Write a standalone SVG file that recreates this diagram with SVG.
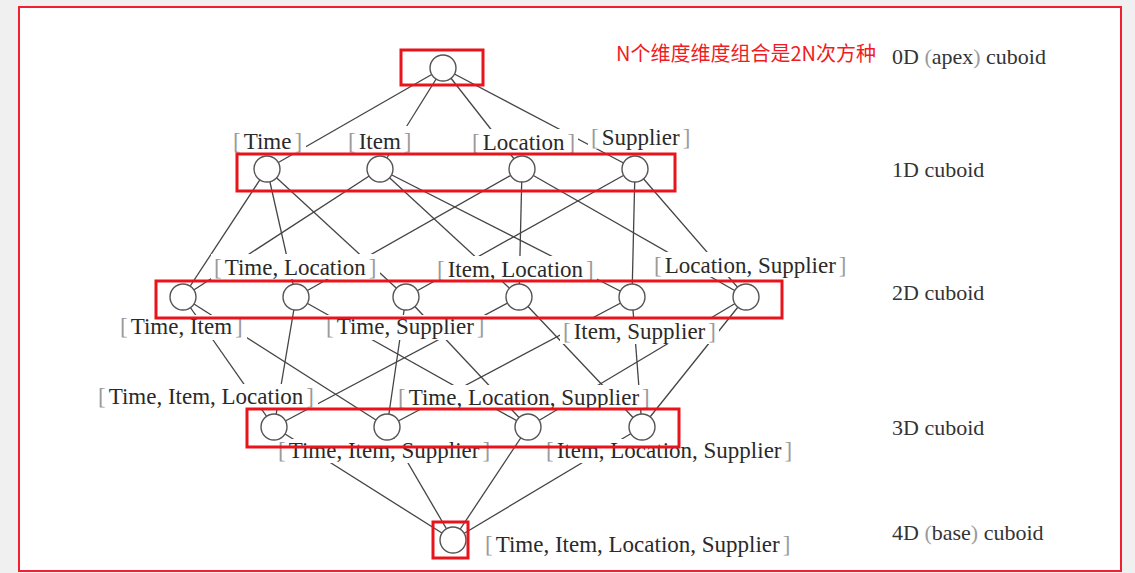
<svg xmlns="http://www.w3.org/2000/svg" width="1135" height="573" viewBox="0 0 1135 573">
<style>
.lbl{font-family:"Liberation Serif","Times New Roman",serif;font-size:23px;fill:#2a2a2a}
.lvl{font-family:"Liberation Serif","Times New Roman",serif;font-size:22px;fill:#333}
.br{fill:#9a9a9a}
.nd{fill:#ffffff;stroke:#555;stroke-width:1.4}
.cn line{stroke:#444;stroke-width:1.3}
.mk{fill:#ffffff}
.hl{fill:none;stroke:#e8141c;stroke-width:3}
.note{font-family:"Noto Sans CJK SC","Noto Sans",sans-serif;font-size:20px;fill:#f01c24}
</style>
<rect x="0" y="0" width="1135" height="573" fill="#f0f0f0"/>
<rect x="19" y="7" width="1102" height="564" fill="#ffffff" stroke="#f02030" stroke-width="2"/>

<g id="connectors" class="cn">
<!-- 0D to 1D -->
<line x1="443" y1="68" x2="267" y2="169"/>
<line x1="443" y1="68" x2="380" y2="169"/>
<line x1="443" y1="68" x2="522" y2="169"/>
<line x1="443" y1="68" x2="635" y2="169"/>
<!-- 1D to 2D -->
<line x1="267" y1="169" x2="183" y2="297"/>
<line x1="267" y1="169" x2="296" y2="297"/>
<line x1="267" y1="169" x2="406" y2="297"/>
<line x1="380" y1="169" x2="183" y2="297"/>
<line x1="380" y1="169" x2="519" y2="297"/>
<line x1="380" y1="169" x2="632" y2="297"/>
<line x1="522" y1="169" x2="296" y2="297"/>
<line x1="522" y1="169" x2="519" y2="297"/>
<line x1="522" y1="169" x2="746" y2="297"/>
<line x1="635" y1="169" x2="406" y2="297"/>
<line x1="635" y1="169" x2="632" y2="297"/>
<line x1="635" y1="169" x2="746" y2="297"/>
<!-- 2D to 3D -->
<line x1="183" y1="297" x2="274" y2="427"/>
<line x1="183" y1="297" x2="387" y2="427"/>
<line x1="296" y1="297" x2="274" y2="427"/>
<line x1="296" y1="297" x2="528" y2="427"/>
<line x1="406" y1="297" x2="387" y2="427"/>
<line x1="406" y1="297" x2="528" y2="427"/>
<line x1="519" y1="297" x2="274" y2="427"/>
<line x1="519" y1="297" x2="642" y2="427"/>
<line x1="632" y1="297" x2="387" y2="427"/>
<line x1="632" y1="297" x2="642" y2="427"/>
<line x1="746" y1="297" x2="528" y2="427"/>
<line x1="746" y1="297" x2="642" y2="427"/>
<!-- 3D to 4D -->
<line x1="274" y1="427" x2="453" y2="540"/>
<line x1="387" y1="427" x2="453" y2="540"/>
<line x1="528" y1="427" x2="453" y2="540"/>
<line x1="642" y1="427" x2="453" y2="540"/>
</g>

<g id="label-backgrounds" class="mk">
<rect x="230" y="127" width="76" height="26"/>
<rect x="345" y="126" width="70" height="27"/>
<rect x="469" y="129" width="109" height="25"/>
<rect x="588" y="124" width="105" height="25"/>
<rect x="211" y="254" width="169" height="25"/>
<rect x="434" y="256" width="163" height="25"/>
<rect x="651" y="252" width="199" height="25"/>
<rect x="117" y="315" width="130" height="25"/>
<rect x="323" y="315" width="165" height="25"/>
<rect x="560" y="319" width="159" height="25"/>
<rect x="95" y="384" width="223" height="25"/>
<rect x="395" y="385" width="259" height="25"/>
<rect x="275" y="439" width="219" height="24"/>
<rect x="543" y="439" width="252" height="24"/>
<rect x="482" y="531" width="312" height="25"/>
</g>

<g id="node-apex">
<circle class="nd" cx="443" cy="68" r="13"/>
</g>
<g id="node-time">
<text class="lbl" x="233" y="149"><tspan class="br">[</tspan><tspan dx="3">Time</tspan><tspan class="br" dx="3">]</tspan></text>
<circle class="nd" cx="267" cy="169" r="13"/>
</g>
<g id="node-item">
<text class="lbl" x="348" y="149"><tspan class="br">[</tspan><tspan dx="3">Item</tspan><tspan class="br" dx="3">]</tspan></text>
<circle class="nd" cx="380" cy="169" r="13"/>
</g>
<g id="node-location">
<text class="lbl" x="472" y="150"><tspan class="br">[</tspan><tspan dx="3">Location</tspan><tspan class="br" dx="3">]</tspan></text>
<circle class="nd" cx="522" cy="169" r="13"/>
</g>
<g id="node-supplier">
<text class="lbl" x="591" y="145"><tspan class="br">[</tspan><tspan dx="3">Supplier</tspan><tspan class="br" dx="3">]</tspan></text>
<circle class="nd" cx="635" cy="169" r="13"/>
</g>

<g id="node-time-item">
<text class="lbl" x="120" y="334"><tspan class="br">[</tspan><tspan dx="3">Time, Item</tspan><tspan class="br" dx="3">]</tspan></text>
<circle class="nd" cx="183" cy="297" r="13"/>
</g>
<g id="node-time-location">
<text class="lbl" x="214" y="275"><tspan class="br">[</tspan><tspan dx="3">Time, Location</tspan><tspan class="br" dx="3">]</tspan></text>
<circle class="nd" cx="296" cy="297" r="13"/>
</g>
<g id="node-time-supplier">
<text class="lbl" x="326" y="334"><tspan class="br">[</tspan><tspan dx="3">Time, Supplier</tspan><tspan class="br" dx="3">]</tspan></text>
<circle class="nd" cx="406" cy="297" r="13"/>
</g>
<g id="node-item-location">
<text class="lbl" x="437" y="277"><tspan class="br">[</tspan><tspan dx="3">Item, Location</tspan><tspan class="br" dx="3">]</tspan></text>
<circle class="nd" cx="519" cy="297" r="13"/>
</g>
<g id="node-item-supplier">
<text class="lbl" x="563" y="339"><tspan class="br">[</tspan><tspan dx="3">Item, Supplier</tspan><tspan class="br" dx="3">]</tspan></text>
<circle class="nd" cx="632" cy="297" r="13"/>
</g>
<g id="node-location-supplier">
<text class="lbl" x="654" y="273"><tspan class="br">[</tspan><tspan dx="3">Location, Supplier</tspan><tspan class="br" dx="3">]</tspan></text>
<circle class="nd" cx="746" cy="297" r="13"/>
</g>

<g id="node-time-item-location">
<text class="lbl" x="98" y="404"><tspan class="br">[</tspan><tspan dx="3">Time, Item, Location</tspan><tspan class="br" dx="3">]</tspan></text>
<circle class="nd" cx="274" cy="427" r="13"/>
</g>
<g id="node-time-item-supplier">
<text class="lbl" x="278" y="458"><tspan class="br">[</tspan><tspan dx="3">Time, Item, Supplier</tspan><tspan class="br" dx="3">]</tspan></text>
<circle class="nd" cx="387" cy="427" r="13"/>
</g>
<g id="node-time-location-supplier">
<text class="lbl" x="398" y="405"><tspan class="br">[</tspan><tspan dx="3">Time, Location, Supplier</tspan><tspan class="br" dx="3">]</tspan></text>
<circle class="nd" cx="528" cy="427" r="13"/>
</g>
<g id="node-item-location-supplier">
<text class="lbl" x="546" y="458"><tspan class="br">[</tspan><tspan dx="3">Item, Location, Supplier</tspan><tspan class="br" dx="3">]</tspan></text>
<circle class="nd" cx="642" cy="427" r="13"/>
</g>

<g id="node-base">
<text class="lbl" x="485" y="552"><tspan class="br">[</tspan><tspan dx="3">Time, Item, Location, Supplier</tspan><tspan class="br" dx="3">]</tspan></text>
<circle class="nd" cx="453" cy="540" r="13"/>
</g>

<g id="level-labels">
<text class="lvl" x="892" y="64">0D <tspan class="br">(</tspan>apex<tspan class="br">)</tspan> cuboid</text>
<text class="lvl" x="892" y="177">1D cuboid</text>
<text class="lvl" x="892" y="300">2D cuboid</text>
<text class="lvl" x="892" y="435">3D cuboid</text>
<text class="lvl" x="892" y="540">4D <tspan class="br">(</tspan>base<tspan class="br">)</tspan> cuboid</text>
</g>

<g id="highlights">
<rect class="hl" x="401" y="50" width="82" height="35"/>
<rect class="hl" x="237" y="154" width="438" height="37"/>
<rect class="hl" x="156" y="281" width="626" height="37"/>
<rect class="hl" x="247" y="409" width="432" height="38"/>
<rect class="hl" x="433" y="522" width="35" height="36"/>
<text class="note" x="616" y="61">N个维度维度组合是2N次方种</text>
</g>
</svg>
